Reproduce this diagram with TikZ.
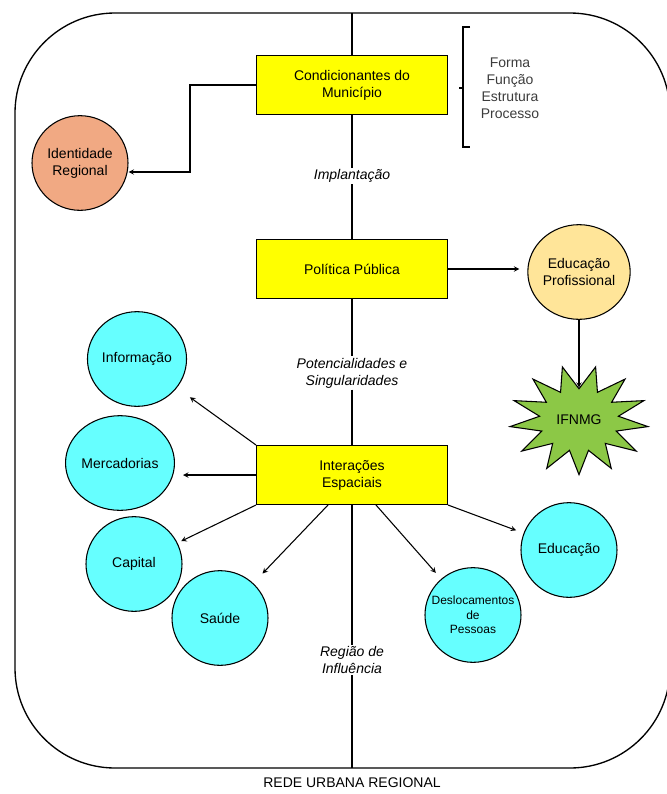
\documentclass[tikz,border=0pt]{standalone}
\usepackage{fontspec}
\setmainfont{Liberation Sans}
\usepackage{tikz}
\usetikzlibrary{shapes.geometric}
\definecolor{amarelo}{RGB}{255,255,0}
\definecolor{salmao}{RGB}{241,169,131}
\definecolor{creme}{RGB}{255,229,153}
\definecolor{ciano}{RGB}{102,255,255}
\definecolor{verde}{RGB}{140,200,70}
\definecolor{cinza}{RGB}{60,60,60}

\begin{document}
\begin{tikzpicture}[x=0.75pt,y=-0.75pt, >=stealth, inner sep=1mm,
  font=\fontsize{10.5}{12.75}\selectfont,
  caixa/.style={rectangle, draw, line width=1pt, fill=amarelo, minimum width=143pt, minimum height=44pt, align=center},
  bola/.style={ellipse, draw, line width=0.8pt, minimum width=72pt, minimum height=71pt, inner sep=0pt, align=center},
  rotulo/.style={font=\fontsize{10.5}{12.75}\selectfont\itshape, align=center, inner sep=1pt},
  seta/.style={->, line width=0.8pt, shorten >=6pt}]
\useasboundingbox (0,0) rectangle (667,794);
\draw[line width=1pt, rounded corners=75pt] (15,13) rectangle (670,768);
\coordinate (topo) at (352,13);
\coordinate (base) at (352,768);
% caixas
\node (cond) at (352,85) [caixa] {Condicionantes do\\Município};
\node (pol) at (352,269) [caixa] {Política Pública};
\node (inter) at (352,475) [caixa] {Interações\\Espaciais};
% rotulos
\node (impl) at (352,176) [rotulo] {Implantação};
\node (poten) at (352,373) [rotulo] {Potencialidades e\\Singularidades};
\node (regiao) at (352,660) [rotulo] {Região de\\Influência};
\node (rede) at (352,783) [inner sep=0pt] {REDE URBANA REGIONAL};
% bolas
\node (ident) at (80,163) [bola, fill=salmao] {Identidade\\Regional};
\node (edpro) at (579,272) [bola, fill=creme] {Educação\\Profissional};
\node (info) at (137,359) [bola, fill=ciano] {Informação};
\node (merc) at (120,463) [bola, fill=ciano] {Mercadorias};
\node (cap) at (134,564) [bola, fill=ciano] {Capital};
\node (saude) at (220,618) [bola, fill=ciano] {Saúde};
\node (desl) at (473,615) [bola, fill=ciano, font=\fontsize{9}{10.9}\selectfont] {\makebox[30pt]{Deslocamentos}\\de\\Pessoas};
\node (educ) at (569,550) [bola, fill=ciano] {Educação};
% estrela
\begin{scope}[shift={(579,420)}, xscale=1.27]
\node (star) at (0,0) [star, star points=13, star point ratio=1.75, shape border rotate=180/13, minimum size=82pt, draw, line width=0.8pt, fill=verde, transform shape] {};
\end{scope}
\node (ifnmg) at (star.center) {IFNMG};
% chave
\node (forma) at (510,88) [align=center, text=cinza] {Forma\\Função\\Estrutura\\Processo};
\draw[line width=0.8pt] (470,27) -- (463,27) -- (463,147) -- (470,147);
\draw[line width=0.8pt] (463,88) -- (459,88);
% linhas
\draw[line width=0.8pt] (topo) -- (cond);
\draw[line width=0.8pt] (cond) -- (impl);
\draw[line width=0.8pt] (impl) -- (pol);
\draw[line width=0.8pt] (pol) -- (poten);
\draw[line width=0.8pt] (poten) -- (inter);
\draw[line width=0.8pt] (inter) -- (regiao);
\draw[line width=0.8pt] (regiao) -- (base);
% setas
\draw[->, line width=0.8pt] (cond.west) -- ++(-66,0) |- ([yshift=-6.75pt]ident.east);
\draw[seta] (pol.east) -- (pol.east -| edpro.west);
\draw[->, line width=0.8pt] (edpro) -- (star);
\draw[seta, shorten >=12pt] (inter.north west) -- (info);
\draw[seta] (inter.west) -- (inter.west -| merc.east);
\draw[seta, shorten >=3pt] (inter.south west) -- (cap);
\draw[seta, shorten >=10pt] ([xshift=-18pt]inter.south) -- (saude);
\draw[seta] ([xshift=18pt]inter.south) -- (desl);
\draw[seta] (inter.south east) -- (educ);
\end{tikzpicture}
\end{document}
